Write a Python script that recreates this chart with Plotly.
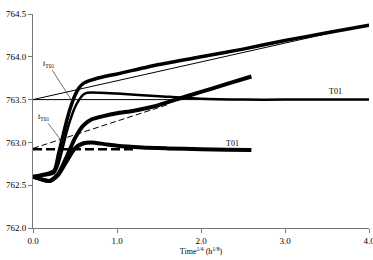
import plotly.graph_objects as go

# Curve 1: upper rising curve (thick)
c1_x = [0, 0.25, 0.3, 0.35, 0.4, 0.45, 0.5, 0.55, 0.6, 0.7, 0.85, 1.0, 1.5, 2.0, 2.5, 3.0, 3.5, 4.0]
c1_y = [762.60, 762.67, 762.85, 763.05, 763.25, 763.42, 763.55, 763.64, 763.69, 763.73, 763.77, 763.80,
        763.91, 764.0, 764.09, 764.19, 764.28, 764.37]
# Curve 2: upper T01 curve
c2_x = [0, 0.25, 0.3, 0.35, 0.4, 0.45, 0.5, 0.55, 0.6, 0.65, 0.8, 1.0, 1.5, 2.0, 2.5, 3.0, 3.5, 4.0]
c2_y = [762.60, 762.64, 762.74, 762.92, 763.12, 763.28, 763.41, 763.50, 763.56, 763.58, 763.58, 763.57,
        763.54, 763.51, 763.50, 763.50, 763.50, 763.50]
# Curve 3: lower rising curve (thick)
c3_x = [0, 0.2, 0.3, 0.4, 0.5, 0.6, 0.7, 0.85, 1.0, 1.2, 1.4, 1.7, 2.0, 2.3, 2.6]
c3_y = [762.60, 762.55, 762.63, 762.83, 763.05, 763.20, 763.27, 763.31, 763.34, 763.37, 763.41, 763.50,
        763.59, 763.68, 763.77]
# Curve 4: lower T01 curve (thick)
c4_x = [0, 0.2, 0.3, 0.4, 0.5, 0.6, 0.7, 0.85, 1.0, 1.3, 1.6, 2.0, 2.3, 2.6]
c4_y = [762.60, 762.55, 762.62, 762.78, 762.93, 762.99, 763.0, 762.98, 762.96, 762.94, 762.93, 762.92,
        762.915, 762.91]
# Reference lines
tan_up_x = [0, 4.0]
tan_up_y = [763.5, 764.38]
flat_up_x = [0, 4.0]
flat_up_y = [763.5, 763.5]
tan_lo_x = [0, 1.6]
tan_lo_y = [762.93, 763.44]
flat_lo_x = [0, 1.2]
flat_lo_y = [762.92, 762.92]

x_ticks = [0, 1, 2, 3, 4]
y_ticks = [762.0, 762.5, 763.0, 763.5, 764.0, 764.5]

fig = go.Figure()
def add(x, y, w, dash="solid", shape="spline"):
    fig.add_trace(go.Scatter(x=x, y=y, mode="lines",
                             line=dict(color="black", width=w, dash=dash, shape=shape, smoothing=0.6),
                             showlegend=False, hoverinfo="skip"))

add(flat_up_x, flat_up_y, 1, shape="linear")
add(tan_up_x, tan_up_y, 1, shape="linear")
add(tan_lo_x, tan_lo_y, 1, dash="6px,3px", shape="linear")
add(flat_lo_x, flat_lo_y, 2.5, dash="9px,4px", shape="linear")
add(c1_x, c1_y, 3.5)
add(c2_x, c2_y, 2.5)
add(c3_x, c3_y, 4)
add(c4_x, c4_y, 4)

fnt = dict(family="Liberation Serif", size=9, color="black")
sfnt = dict(family="Liberation Serif", size=8, color="black")
fig.add_annotation(x=0.46, y=763.49, ax=0.18, ay=763.92, axref="x", ayref="y",
                   text="<i>t</i><sub>T01</sub>", showarrow=True, arrowhead=0, arrowwidth=0.7,
                   arrowcolor="#333", font=sfnt)
fig.add_annotation(x=0.345, y=763.01, ax=0.12, ay=763.30, axref="x", ayref="y",
                   text="<i>t</i><sub>T01</sub>", showarrow=True, arrowhead=0, arrowwidth=0.7,
                   arrowcolor="#333", font=sfnt)
fig.add_annotation(x=3.6, y=763.59, text="T01", showarrow=False, font=sfnt)
fig.add_annotation(x=2.37, y=762.99, text="T01", showarrow=False, font=sfnt)

fig.update_layout(
    width=373, height=260,
    margin=dict(l=33, r=4, t=14, b=32),
    plot_bgcolor="white", paper_bgcolor="white",
    font=fnt,
    xaxis=dict(range=[0, 4.0], tickvals=x_ticks, tickformat=".1f", showgrid=False, zeroline=False,
               showline=True, linecolor="#777", linewidth=1, ticks="outside", ticklen=4,
               tickcolor="#777", tickfont=fnt, ticklabeloverflow="allow", automargin=False,
               title=dict(text="Time<sup>1/4</sup> (h<sup>1/8</sup>)", font=sfnt, standoff=2)),
    yaxis=dict(range=[762.0, 764.5], tickvals=y_ticks, tickformat=".1f", showgrid=False, zeroline=False,
               showline=True, linecolor="#777", linewidth=1, ticks="outside", ticklen=4,
               tickcolor="#777", tickfont=fnt, automargin=False),
)
fig.write_html("out.html")
